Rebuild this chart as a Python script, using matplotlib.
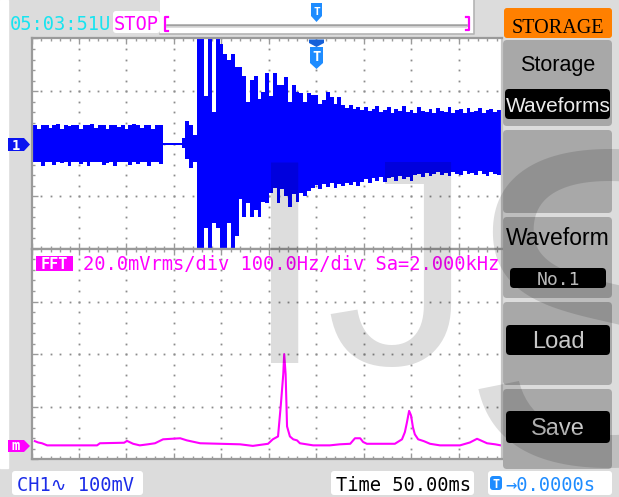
import matplotlib
matplotlib.use("Agg")
import matplotlib.pyplot as plt
import numpy as np
from matplotlib.patches import Rectangle, FancyBboxPatch, Polygon
from matplotlib.ticker import MultipleLocator
from matplotlib.textpath import TextPath
from matplotlib.font_manager import FontProperties

# CH1 record, one envelope column (max / min) every 4 ms, in mV
sample_ms = 4
ch1_max_mv = [36, 36, 28, 36, 36, 30, 36, 38, 28, 36, 33, 36, 36, 28, 36, 36, 38, 30,
              36, 36, 28, 36, 36, 32, 36, 28, 36, 38, 36, 30, 36, 36, 28, 36, 36,
              2, 2, 2, 2, 2,
              11, 44, 36, 17,
              250, 250, 90, 250, 60, 250, 190, 170, 160, 170,
              145, 145, 128, 80, 122, 128, 85, 99, 135, 90,
              135, 112, 112, 126, 80, 112, 99, 97, 80, 97,
              93, 93, 75, 84, 99, 88, 75, 88, 74, 68,
              74, 66, 70, 64, 69, 62, 66, 72, 60, 64,
              70, 58, 66, 62, 72, 60, 64, 58, 70, 62,
              60, 66, 58, 68, 62, 60, 70, 58, 64, 66,
              58, 68, 60, 62, 68, 58, 64, 66, 60, 64,
              62]
ch1_min_mv = [-36, -34, -34, -42, -34, -34, -40, -34, -36, -34, -43, -34, -34, -38, -34, -42, -34, -34,
              -34, -40, -36, -34, -43, -34, -34, -34, -40, -34, -38, -34, -34, -42, -34, -34, -38,
              -2, -2, -2, -2, -2,
              -8, -30, -46, -34,
              -250, -250, -160, -250, -150, -160, -250, -250, -150, -250,
              -175, -105, -140, -112, -139, -126, -139, -110, -112, -93,
              -85, -112, -86, -100, -120, -95, -110, -93, -100, -90,
              -84, -78, -86, -76, -82, -75, -84, -76, -80, -74,
              -78, -72, -80, -72, -68, -74, -66, -70, -64, -72,
              -66, -64, -70, -62, -68, -64, -70, -60, -58, -64,
              -56, -62, -58, -54, -60, -56, -62, -54, -58, -60,
              -52, -58, -56, -60, -52, -58, -62, -54, -58, -60,
              -56]

# FFT of CH1
fft_hz = [7, 14, 22, 33, 60, 102, 138, 144, 195, 201, 214, 228, 245, 260, 277,
          313, 327, 355, 439, 466, 498, 508, 519, 525, 530, 532, 535, 538, 544, 551,
          559, 565, 593, 628, 649, 671, 681, 692, 698, 706, 765, 780, 786, 790, 795,
          799, 803, 807, 814, 826, 839, 860, 902, 923, 938, 948, 959, 976, 988]
fft_mvrms = [1.6, 1.1, 0.8, 0, 0, 0, 0, 0.8, 1.0, 1.7, 0.6, 0, 0.4, 0.8, 2.3,
             2.7, 1.9, 0.8, 0.4, -0.2, 0.6, 2.3, 3.4, 15.6, 27, 34.7, 27, 7.2, 3.4, 2.3,
             1.9, 0.8, 0, 0, 0.4, 0.6, 2.7, 2.7, 1.3, 0.6, 0.6, 2.3, 5.0, 8.4, 13.1,
             11.4, 6.9, 4.2, 2.3, 1.6, 0.6, 0, 0, 1.1, 2.5, 1.7, 0.8, 0.4, 0]

ms_per_div = 50
mv_per_div = 100
hz_per_div = 100
mvrms_per_div = 20
fft_ref_div = 0.265

W, H = 619, 497
X0, X1 = 31.5, 502.0
Y0, DH, DW = 38.5, 52.6, 47.5
YM, Y1 = Y0 + 4 * DH, Y0 + 8 * DH

FRAME = '#9a9a9a'
DOT = '#8c8c8c'
BLUE = '#0000ff'
MAG = '#ff00ff'
CYAN = '#18e4f0'
TBLUE = '#1e8cff'
MONO = 'DejaVu Sans Mono'
SANS = 'Liberation Sans'

fig = plt.figure(figsize=(W / 100, H / 100), dpi=100, facecolor='#dcdcdc')


def px_axes(z):
    ax = fig.add_axes([0, 0, 1, 1], zorder=z)
    ax.set_xlim(0, W)
    ax.set_ylim(H, 0)
    ax.axis('off')
    ax.patch.set_alpha(0)
    return ax


def screen_axes(ya, yb):
    return fig.add_axes([X0 / W, 1 - yb / H, (X1 - X0) / W, (yb - ya) / H], zorder=2)


def rbox(ax, x0, y0, x1, y1, fc, r=3, z=1):
    ax.add_patch(FancyBboxPatch((x0, y0), x1 - x0, y1 - y0,
                                boxstyle=f'round,pad=0,rounding_size={r}',
                                fc=fc, ec='none', zorder=z))


def say(ax, x, y, s, color, size, family=MONO, ha='left', va='baseline', z=3, **kw):
    ax.text(x, y, s, color=color, fontsize=size, family=family, ha=ha, va=va, zorder=z, **kw)


bg = px_axes(0)
top = px_axes(10)
wave = screen_axes(Y0, YM)
fft = screen_axes(YM, Y1)

# ---- screen: CH1 on the upper half, FFT window on the lower half
wave.set_xlim(0, (X1 - X0) / DW * ms_per_div)
wave.set_ylim(-2 * mv_per_div, 2 * mv_per_div)
fft.set_xlim(0, (X1 - X0) / DW * hz_per_div)
fft.set_ylim(0, 4)

for ax in (wave, fft):
    ax.set_facecolor('white')
    for s in ax.spines.values():
        s.set_color(FRAME)
        s.set_linewidth(1.6)
    ax.spines['right'].set_color('#c4c4c4')
    ax.tick_params(which='both', direction='in', top=True, bottom=True, left=True, right=False,
                   labelbottom=False, labelleft=False, color=FRAME, width=1)
    ax.tick_params(which='major', length=4)
    ax.tick_params(which='minor', length=2.5)

wave.xaxis.set_major_locator(MultipleLocator(ms_per_div))
wave.xaxis.set_minor_locator(MultipleLocator(ms_per_div / 5))
wave.yaxis.set_major_locator(MultipleLocator(mv_per_div))
wave.yaxis.set_minor_locator(MultipleLocator(mv_per_div / 5))
fft.xaxis.set_major_locator(MultipleLocator(hz_per_div))
fft.xaxis.set_minor_locator(MultipleLocator(hz_per_div / 5))
fft.yaxis.set_major_locator(MultipleLocator(1))
fft.yaxis.set_minor_locator(MultipleLocator(0.2))


def dotted_grid(ax, vlines, hlines, xstep, ystep, xmax, ymin, ymax):
    ydots = np.arange(ymin, ymax + ystep / 2, ystep)
    xdots = np.arange(xstep, xmax, xstep)
    gx, gy = np.meshgrid(vlines, ydots)
    ax.plot(gx.ravel(), gy.ravel(), ls='none', marker='s', ms=1.3, mew=0, color=DOT, zorder=1.5)
    gx, gy = np.meshgrid(xdots, hlines)
    ax.plot(gx.ravel(), gy.ravel(), ls='none', marker='s', ms=1.3, mew=0, color=DOT, zorder=1.5)


dotted_grid(wave, np.arange(1, 10) * ms_per_div, [-mv_per_div, 0, mv_per_div],
            ms_per_div / 5, mv_per_div / 5, wave.get_xlim()[1], -2 * mv_per_div, 2 * mv_per_div)
dotted_grid(fft, np.arange(1, 10) * hz_per_div, [1, 2, 3],
            hz_per_div / 5, 0.2, fft.get_xlim()[1], 0, 4)

t_ms = np.arange(len(ch1_max_mv)) * sample_ms
wave.fill_between(t_ms, ch1_min_mv, ch1_max_mv, step='mid', color=BLUE, lw=0, zorder=2)

fft_div = fft_ref_div + np.array(fft_mvrms) / mvrms_per_div
fft.plot(fft_hz, fft_div, color=MAG, lw=1.5, zorder=2)

# ---- background, status bars and menu
bg.add_patch(Rectangle((0, 0), W, H, color='#dcdcdc', zorder=0))
bg.add_patch(Rectangle((0, 0), 8, 468, color='white', zorder=0.5))

rbox(bg, 113, 11, 160, 33, 'white', r=3)
bg.add_patch(Rectangle((160, 0), 314, 34, fc='white', ec='none', zorder=1))
bg.plot([160, 474, 474], [34, 34, 0], color='#b4b4b4', lw=1.2, zorder=1.5)
say(bg, 10, 30, '05:03:51U', CYAN, 13.5)
say(bg, 114, 30, 'STOP', MAG, 13.5)
bg.plot([167, 466], [24.5, 24.5], color='#a0a0a0', lw=1.8, zorder=2)
bg.plot([167, 466], [27, 27], color='#d6d6d6', lw=1.2, zorder=2)
bg.plot([167.5, 164.5, 164.5, 167.5], [17, 17, 31, 31], color=MAG, lw=1.6, zorder=3)
bg.plot([465.5, 468.5, 468.5, 465.5], [17, 17, 30, 30], color=MAG, lw=1.6, zorder=3)
bg.add_patch(Polygon([(311, 3), (322, 3), (322, 16), (316.5, 22), (311, 16)], fc=TBLUE, ec='none', zorder=3))
say(bg, 316.5, 15, 'T', 'white', 8, ha='center', weight='bold', z=4)

rbox(bg, 504, 8, 612, 38, '#ff8000', r=3)
say(bg, 558, 33, 'STORAGE', 'black', 14.5, family='Liberation Serif', ha='center')

for y0, y1 in [(40, 126), (130, 213), (217, 298), (302, 385), (389, 469)]:
    rbox(bg, 503, y0, 612, y1, '#a8a8a8', r=4)
say(bg, 558, 71, 'Storage', 'black', 15.5, family=SANS, ha='center')
rbox(bg, 505, 89, 610, 119, 'black', r=4, z=2)
say(bg, 558, 112, 'Waveforms', '#ececec', 15, family=SANS, ha='center')
say(bg, 558, 245, 'Waveform', 'black', 16.5, family=SANS, ha='center')
rbox(bg, 510, 268, 606, 288, 'black', r=4, z=2)
say(bg, 558, 285, 'No.1', '#d4d4d4', 13, ha='center')
rbox(bg, 506, 325, 610, 355, 'black', r=4, z=2)
say(bg, 558, 348, 'Load', '#c8c8c8', 17, family=SANS, ha='center')
rbox(bg, 506, 411, 610, 443, 'black', r=4, z=2)
say(bg, 558, 435, 'Save', '#c8c8c8', 17, family=SANS, ha='center')

rbox(bg, 12, 471, 143, 495, 'white', r=3)
say(bg, 17, 491, 'CH1\u223f 100mV', '#1c2ce8', 13.5, family=[MONO, 'DejaVu Sans'])
rbox(bg, 331, 471, 474, 495, 'white', r=3)
say(bg, 336, 491, 'Time 50.00ms', 'black', 13.5)
rbox(bg, 488, 471, 612, 495, 'white', r=3)
rbox(bg, 490, 476, 502, 490, TBLUE, r=3, z=2)
say(bg, 496, 487.5, 'T', 'white', 8.5, ha='center', weight='bold')
say(bg, 505, 491, '\u21920.0000s', TBLUE, 13.5, family=[MONO, 'DejaVu Sans'])

# channel / math reference tags
bg.add_patch(Polygon([(8, 138), (24, 138), (30, 144.5), (24, 151), (8, 151)], fc='#0a14f0', ec='none', zorder=3))
say(bg, 16, 149.5, '1', 'white', 10, ha='center', weight='bold', z=4)
bg.add_patch(Polygon([(8, 440), (24, 440), (30, 446), (24, 452), (8, 452)], fc=MAG, ec='none', zorder=3))
say(bg, 16, 450.5, 'm', 'white', 10, ha='center', weight='bold', z=4)

# FFT window caption
top.add_patch(Rectangle((36, 256), 37, 15, fc=MAG, ec='none', zorder=1))
say(top, 54.5, 269, 'FFT', 'white', 11, ha='center', weight='bold', z=2)
say(top, 83, 270, '20.0mVrms/div 100.0Hz/div Sa=2.000kHz', MAG, 13.5, z=2)

# trigger position marker at the top of the screen
top.add_patch(Polygon([(309, 39.5), (324, 39.5), (324, 43), (316.5, 47), (309, 43)], fc='#1560d8', ec='none', zorder=1))
top.add_patch(Polygon([(310, 47), (323, 47), (323, 63), (316.5, 69), (310, 63)], fc=TBLUE, ec='none', zorder=1))
say(top, 316.5, 61, 'T', 'white', 10, ha='center', weight='bold', z=2)


# IJS watermark: each letter sized and placed from its ink box (pixels, y down)
def watermark(ch, left, top_y, bottom_y, family):
    ext = TextPath((0, 0), ch, size=1, prop=FontProperties(family=family)).get_extents()
    em = (bottom_y - top_y) / ext.height
    top.text(left - ext.x0 * em, bottom_y + ext.y0 * em, ch, fontsize=em * 0.72,
             family=family, color='black', alpha=0.135, ha='left', va='baseline', zorder=5)


watermark('I', 271, 162, 363, SANS)
watermark('J', 330, 162, 367, SANS)
watermark('S', 478, 150, 468, ['Liberation Sans Narrow', SANS])

fig.savefig('out.png', dpi=100, facecolor=fig.get_facecolor())
